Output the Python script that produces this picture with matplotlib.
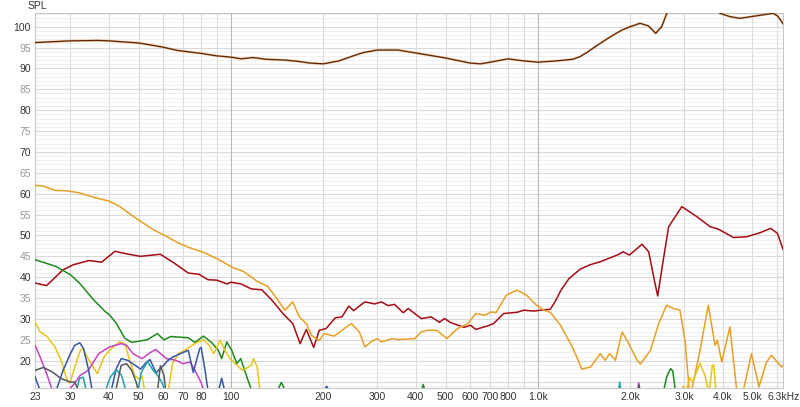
import matplotlib
matplotlib.use('Agg')
import matplotlib.pyplot as plt
import numpy as np

plt.rcParams['font.family'] = ['Liberation Sans', 'DejaVu Sans']

# fundamental (brown)
fund_f = [23, 30, 37, 40, 50, 57, 60, 67, 80, 90, 100, 108, 118, 130, 150, 165, 180, 200, 225,
          250, 270, 300, 350, 400, 500, 600, 650, 700, 800, 900, 1000, 1150, 1300, 1370, 1450,
          1550, 1650, 1760, 1880, 2000, 2150, 2290, 2420, 2530, 2630, 2800, 3200, 3600, 3920,
          4220, 4550, 5160, 5840, 6050, 6300]
fund_db = [96.2, 96.6, 96.7, 96.6, 96.1, 95.4, 95.1, 94.3, 93.6, 93.0, 92.7, 92.3, 92.6, 92.2,
           92.0, 91.7, 91.3, 91.1, 91.8, 93.0, 93.8, 94.4, 94.4, 93.7, 92.5, 91.3, 91.1, 91.5,
           92.3, 91.8, 91.5, 91.8, 92.2, 92.8, 93.9, 95.4, 96.7, 98.0, 99.2, 100.0, 100.8, 100.2,
           98.4, 100.0, 103.2, 106, 107, 105, 103.2, 102.4, 102.0, 102.6, 103.2, 102.5, 100.6]

# dark red
red_f = [23, 25.1, 28.4, 30.7, 34.5, 37.9, 41.9, 45.7, 50.7, 58.9, 65.3, 72.6, 78.7, 84.2, 89.8,
         97.2, 99.9, 107.7, 116.5, 126, 136, 147.7, 159, 168, 176, 186, 194, 204, 219, 230, 242,
         251, 273, 294, 309, 325, 341, 364, 378, 417, 449, 478, 496, 521, 575, 604, 627, 683, 717,
         773, 855, 900, 970, 1046, 1097, 1140, 1185, 1260, 1371, 1480, 1596, 1812, 1895, 1986,
         2184, 2295, 2394, 2456, 2540, 2666, 2943, 3295, 3640, 3874, 4338, 4796, 5310, 5730,
         6030, 6300]
red_db = [38.6, 38.0, 41.8, 43.0, 44.0, 43.6, 46.2, 45.6, 45.0, 45.5, 43.4, 41.0, 40.7, 39.4, 39.3,
          38.4, 38.8, 38.4, 37.2, 37.0, 34.5, 31.3, 28.9, 24.1, 27.5, 23.2, 27.3, 27.7, 30.3, 30.5,
          33.1, 32.0, 34.1, 33.6, 34.1, 33.2, 33.5, 31.5, 32.5, 30.1, 30.5, 29.2, 30.1, 29.1, 28.0,
          28.5, 27.5, 28.3, 28.9, 31.3, 31.6, 32.1, 31.9, 32.2, 32.3, 34.3, 36.7, 39.6, 41.9, 43.0,
          43.7, 45.3, 46.1, 45.3, 47.9, 46.1, 39.3, 35.5, 42.5, 52.1, 56.9, 54.5, 52.1, 51.5, 49.5,
          49.7, 50.7, 51.7, 50.5, 46.5]

# orange
or_f = [23, 24.5, 26.7, 29.1, 32.1, 36.3, 40.2, 43.3, 48.0, 55.8, 61.6, 67.4, 72.6, 82.4, 91.4,
        101.5, 109.8, 121.8, 131.8, 136, 150, 159, 167, 176, 183, 194, 201, 217, 237, 247, 262,
        273, 288, 300, 309, 335, 350, 397, 417, 436, 468, 505, 547, 592, 627, 672, 705, 730, 789,
        855, 918, 990, 1053, 1097, 1185, 1303, 1390, 1485, 1596, 1656, 1711, 1788, 1881, 1976,
        2106, 2158, 2326, 2474, 2627, 2761, 2902, 3013, 3128, 3373, 3590, 3775, 3844, 3970, 4222,
        4437, 4609, 4962, 5251, 5553, 5766, 6217, 6300]
or_db = [62.0, 61.8, 60.8, 60.7, 60.2, 59.0, 58.2, 57.0, 54.6, 51.4, 49.8, 48.2, 47.2, 45.8, 44.2,
         42.3, 41.4, 39.0, 37.8, 36.5, 32.1, 34.1, 30.5, 28.9, 26.1, 24.8, 26.5, 25.9, 28.0, 28.9,
         26.9, 23.3, 24.7, 25.3, 24.5, 25.3, 25.1, 25.3, 26.9, 27.3, 27.3, 25.3, 27.7, 28.9, 31.3,
         30.9, 31.7, 31.5, 35.7, 36.9, 35.7, 33.3, 32.0, 31.6, 28.5, 22.9, 18.0, 18.5, 21.7, 20.1,
         21.7, 20.1, 26.9, 24.1, 20.1, 19.2, 22.5, 28.9, 33.3, 32.5, 32.1, 24.9, 11.0, 22.5, 33.3,
         23.7, 24.9, 19.7, 28.1, 13.3, 11.0, 21.7, 13.7, 19.7, 21.3, 18.5, 19.0]

# green
gr_f = [23, 26.9, 30, 32.1, 35.7, 38.9, 40.2, 42.3, 45.1, 47.5, 53.3, 57.6, 60.5, 63.7, 72.6, 76.3,
        81.4, 86.7, 91, 93.3, 96.9, 100.6, 104.5, 107.6, 112.7, 116.5, 118, 138, 141, 146, 151,
        154, 410, 416, 423, 430, 436, 2540, 2580, 2627, 2680, 2710, 2750, 2790, 2820]
gr_db = [44.2, 42.6, 40.6, 38.6, 34.6, 31.8, 31.0, 29.0, 25.4, 24.4, 25.0, 26.5, 25.0, 25.8, 25.5,
         24.4, 25.9, 24.3, 22.5, 20.5, 24.5, 22.5, 19.3, 20.5, 16.1, 13.1, 10, 10, 12.5, 14.8,
         12.5, 10, 10, 12.5, 14.3, 12.5, 10, 10, 13.5, 16.1, 17.6, 18.1, 17.5, 14.0, 10]

# yellow
ye_f = [23, 23.9, 25.1, 26.7, 28.0, 29.3, 29.9, 31.0, 32.3, 33.1, 34.0, 36.7, 38.6, 40.5, 43.3,
        45.1, 46.8, 48.5, 50.3, 51.3, 53, 62, 64.5, 67.4, 70.6, 76.3, 81.4, 84.8, 87.9, 92.3, 95.6,
        99.3, 104.5, 109.3, 116.5, 118.4, 121.8, 125.5, 2900, 2975, 3030, 3128, 3190, 3373, 3500,
        3610, 3700, 3740, 3820]
ye_db = [29.3, 26.9, 25.9, 23.3, 20.1, 15.2, 14.7, 18.5, 22.5, 22.9, 20.9, 16.9, 20.9, 22.7, 24.5,
         24.1, 20.1, 16.5, 15.5, 16.3, 11, 11, 19.3, 21.7, 22.5, 24.1, 25.1, 23.7, 21.7, 24.9, 22.5,
         20.5, 18.9, 17.7, 18.9, 20.5, 18.5, 10, 11, 13.9, 12.5, 16.0, 14.8, 19.4, 16.5, 12, 18.9,
         19.0, 11]

# magenta
mg_f = [23, 23.9, 25.1, 26.2, 27.5, 29.1, 30.6, 32.3, 34.3, 37.1, 40.2, 43.9, 45.7, 48.0, 51.3,
        55.0, 56.9, 61.6, 66.2, 69.8, 73.6, 76.3, 79.8, 82, 84, 2090, 2130, 2170]
mg_db = [23.7, 20.9, 16.9, 12.9, 8, 12.5, 14.1, 16.5, 17.7, 21.7, 23.3, 24.1, 23.7, 21.7, 20.5,
         22.1, 22.7, 20.5, 20.1, 19.3, 19.7, 17.7, 14.9, 12.5, 10, 11, 14.7, 11]

# dark blue
bl_f = [23, 24.0, 26.7, 28.4, 30.0, 31.0, 32.2, 33.1, 34.3, 35.5, 40.5, 42.3, 43.9, 46.1, 48.5,
        50.8, 52.8, 54.5, 57.0, 60.5, 62.0, 64.7, 69, 72.6, 75.4, 79.1, 80, 82.5, 84.5, 90.5, 93.3,
        96, 200, 205, 210]
bl_db = [16.2, 12.5, 12, 17.7, 21.7, 23.7, 24.3, 22.9, 18.1, 12, 12, 18.1, 20.5, 20.1, 19.0, 18.0,
         19.5, 20.3, 17.1, 19.0, 19.9, 20.9, 21.8, 22.5, 17.2, 22.9, 23.2, 17.3, 12, 12, 15.8, 12,
         12.5, 13.9, 12.5]

# teal
te_f = [31.2, 32.1, 33.0, 34.0, 38.6, 40.5, 42.3, 44, 45.8, 49.5, 51.1, 53.5, 55.8, 57.7, 59.5,
        61.5, 1820, 1847, 1875]
te_db = [12, 15.7, 16.1, 12, 12, 16.1, 17.9, 16.5, 12, 12, 17.3, 19.8, 17.7, 16.5, 14.9, 12, 11,
         14.9, 11]

# dark gray
gy_f = [23, 24.5, 26.2, 28.0, 30, 31.0, 32.2, 41.9, 43.9, 45.7, 47.5, 49.1, 50.3, 57.5, 58.9,
        60.5, 61.5, 2110, 2135, 2160]
gy_db = [17.7, 18.4, 17.3, 15.7, 14.9, 14.9, 12, 12, 18.9, 19.3, 17.7, 14.9, 12, 12, 18.8, 16.5,
         12, 11, 14.2, 11]

xticks = [23, 30, 40, 50, 60, 70, 80, 100, 200, 300, 400, 500, 600, 700, 800, 1000,
          2000, 3000, 4000, 5000, 6300]
xlabels = ['23', '30', '40', '50', '60', '70', '80', '100', '200', '300', '400', '500', '600',
           '700', '800', '1.0k', '2.0k', '3.0k', '4.0k', '5.0k', '6.3kHz']

fig = plt.figure(figsize=(8, 4.07), dpi=100)
ax = fig.add_axes([35 / 800, 1 - 388.3 / 407, (783.3 - 35) / 800, (388.3 - 13.3) / 407])
ax.set_xscale('log')
ax.set_xlim(23, 6300)
ax.set_ylim(13.4, 103.2)

# grid
for d in range(14, 104):
    if d % 5 == 0:
        ax.axhline(d, color='#d9d9d9', lw=0.8, zorder=0)
    else:
        ax.axhline(d, color='#f0f0f0', lw=0.7, zorder=0)
for dec in [10, 100, 1000]:
    for m in range(1, 10):
        f = dec * m
        if 23 < f < 6300:
            c = '#b8b8b8' if m == 1 else '#dcdcdc'
            ax.axvline(f, color=c, lw=0.8, zorder=0)

kw = dict(solid_joinstyle='round', solid_capstyle='round', zorder=3)
ax.plot(fund_f, fund_db, color='#e0954a', lw=1.7, alpha=0.55, **kw)
ax.plot(fund_f, fund_db, color='#5c2808', lw=0.9, zorder=4, solid_joinstyle='round')
ax.plot(red_f, red_db, color='#a50c14', lw=1.1, **kw)
ax.plot(or_f, or_db, color='#e8a024', lw=1.1, **kw)
ax.plot(gr_f, gr_db, color='#1c8a1c', lw=1.1, **kw)
ax.plot(ye_f, ye_db, color='#e6c618', lw=1.1, **kw)
ax.plot(mg_f, mg_db, color='#c444c8', lw=1.1, **kw)
ax.plot(bl_f, bl_db, color='#3656a6', lw=1.1, **kw)
ax.plot(te_f, te_db, color='#1ca2aa', lw=1.1, **kw)
ax.plot(gy_f, gy_db, color='#585858', lw=1.1, **kw)

ax.set_xticks(xticks)
ax.set_xticklabels(xlabels)
ax.xaxis.set_minor_locator(matplotlib.ticker.NullLocator())
yt = list(range(20, 101, 5))
ax.set_yticks(yt)
ax.set_yticklabels([str(v) for v in yt])
ax.tick_params(axis='both', length=0, labelsize=7.5, colors='#333333', pad=3)
for lab, v in zip(ax.get_yticklabels(), yt):
    lab.set_color('#333333' if v % 10 == 0 else '#999999')

for s in ax.spines.values():
    s.set_color('#c8c8c8')
    s.set_linewidth(0.8)

fig.text(28 / 800, 1 - 6 / 407, 'SPL', fontsize=7.5, color='#333333', va='center', ha='left')

fig.savefig('out.png', dpi=100)
